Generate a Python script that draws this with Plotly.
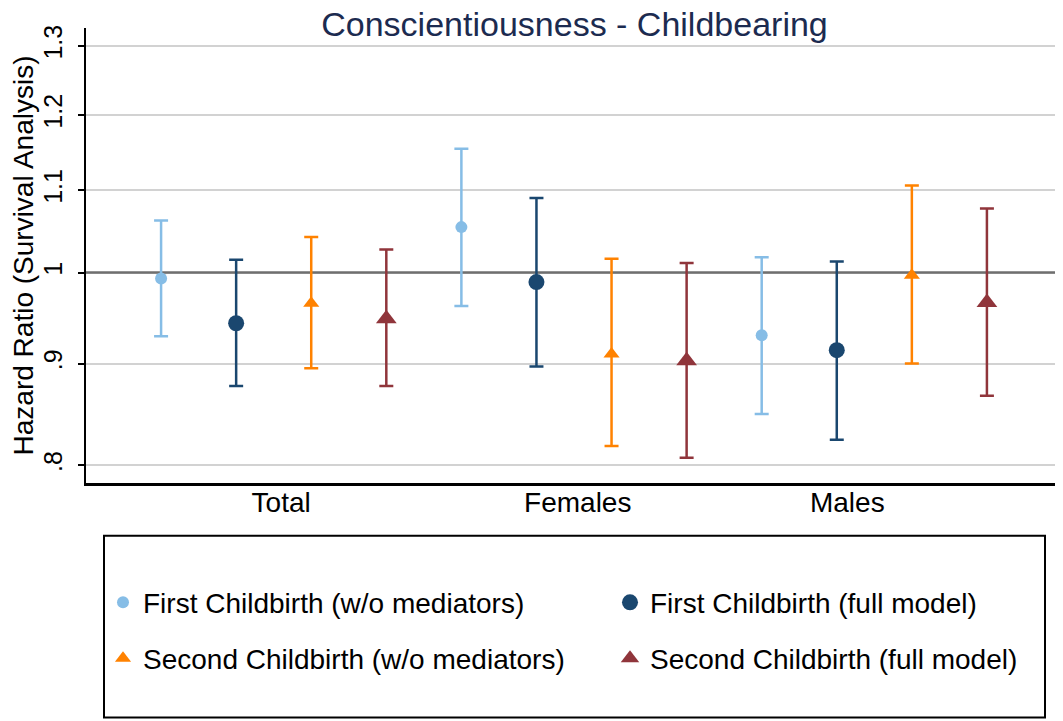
import plotly.graph_objects as go

# ---------------- data ----------------
groups = ["Total", "Females", "Males"]
group_tick_pos = [2.6, 6.55, 10.14]

series_names = [
    "First Childbirth (w/o mediators)",
    "First Childbirth (full model)",
    "Second Childbirth (w/o mediators)",
    "Second Childbirth (full model)",
]

hr_first_wo = [0.993, 1.054, 0.930]
lo_first_wo = [0.929, 0.962, 0.849]
hi_first_wo = [1.062, 1.154, 1.018]

hr_first_full = [0.943, 0.989, 0.914]
lo_first_full = [0.877, 0.897, 0.824]
hi_first_full = [1.015, 1.090, 1.013]

hr_second_wo = [0.965, 0.910, 0.997]
lo_second_wo = [0.895, 0.818, 0.900]
hi_second_wo = [1.042, 1.016, 1.106]

hr_second_full = [0.948, 0.903, 0.966]
lo_second_full = [0.877, 0.807, 0.867]
hi_second_full = [1.027, 1.011, 1.077]

y_tick_vals = [0.8, 0.9, 1.0, 1.1, 1.2, 1.3]
y_tick_text = [".8", ".9", "1", "1.1", "1.2", "1.3"]

# ---------------- styles ----------------
FONT = "Liberation Sans, Arial, sans-serif"
colors = ["#86bde6", "#1a476f", "#ff8200", "#90353b"]
symbols = ["circle", "circle", "triangle-up", "triangle-up"]
sizes = [12, 16, 14, 18]
legend_ids = ["legend", "legend2", "legend3", "legend4"]

all_series = [
    (hr_first_wo, lo_first_wo, hi_first_wo),
    (hr_first_full, lo_first_full, hi_first_full),
    (hr_second_wo, lo_second_wo, hi_second_wo),
    (hr_second_full, lo_second_full, hi_second_full),
]

fig = go.Figure()

# reference line at HR = 1
fig.add_trace(go.Scatter(
    x=[0, 13], y=[1, 1], mode="lines",
    line=dict(color="#6f6f6f", width=2.5),
    showlegend=False, hoverinfo="skip", cliponaxis=False,
))
# right border line of grid
fig.add_trace(go.Scatter(
    x=[13, 13], y=[y_tick_vals[0], y_tick_vals[-1]], mode="lines",
    line=dict(color="#d0d0d0", width=2),
    showlegend=False, hoverinfo="skip", cliponaxis=False,
))

for s, (hr, lo, hi) in enumerate(all_series):
    xs = [4 * g + s + 1 for g in range(len(groups))]
    fig.add_trace(go.Scatter(
        x=xs, y=hr, mode="markers", name=series_names[s],
        marker=dict(color=colors[s], symbol=symbols[s], size=sizes[s]),
        error_y=dict(
            type="data", symmetric=False,
            array=[h - v for h, v in zip(hi, hr)],
            arrayminus=[v - l for v, l in zip(hr, lo)],
            color=colors[s], thickness=2.5, width=7,
        ),
        legend=legend_ids[s],
        cliponaxis=False,
    ))

# the page places the figure 8px from the window's top-left corner
OFF = 8
W, H = 1063 - OFF, 721 - OFF
PLOT_L, PLOT_R, PLOT_T, PLOT_B = 86, 1062, 28, 483.3  # window pixels
ML = PLOT_L - OFF
MR = W - (PLOT_R - OFF)
MT = PLOT_T - OFF
MB = H - (PLOT_B - OFF)
pw = W - ML - MR
ph = H - MT - MB


def px_to_paper_x(px):
    return (px - OFF - ML) / pw


def px_to_paper_y(py):
    return (H - MB - (py - OFF)) / ph


legend_common = dict(
    orientation="h",
    xanchor="left", yanchor="middle",
    font=dict(family=FONT, size=28, color="black"),
    bgcolor="rgba(0,0,0,0)", borderwidth=0,
)
col_x = [103, 610]
row_y = [603, 659]

fig.update_layout(
    width=W, height=H,
    margin=dict(l=ML, r=MR, t=MT, b=MB, autoexpand=False),
    paper_bgcolor="white", plot_bgcolor="white",
    font=dict(family=FONT, color="black"),
    title=dict(
        text="Conscientiousness - Childbearing",
        font=dict(family=FONT, size=34, color="#1c2b50"),
        x=px_to_paper_x(574.5), xref="paper", xanchor="center",
        y=1 - 16 / H, yref="container", yanchor="middle",
    ),
    xaxis=dict(
        range=[0, 13], showgrid=False, zeroline=False,
        tickvals=group_tick_pos, ticktext=groups, ticks="",
        tickfont=dict(family=FONT, size=28, color="black"),
        showline=True, linecolor="black", linewidth=2.5,
        ticklabelstandoff=-7,
        automargin=False,
    ),
    yaxis=dict(
        type="log", range=[-0.10583, 0.12297],
        tickvals=y_tick_vals, ticktext=y_tick_text,
        tickangle=-90,
        tickfont=dict(family=FONT, size=25, color="black"),
        ticks="outside", ticklen=6, tickwidth=2, tickcolor="black",
        ticklabelstandoff=6,
        showgrid=True, gridcolor="#d2d2d2", gridwidth=2,
        zeroline=False,
        showline=True, linecolor="black", linewidth=2,
        automargin=False,
        title=dict(text="Hazard Ratio (Survival Analysis)",
                   font=dict(family=FONT, size=28, color="black"),
                   standoff=0),
    ),
    legend=dict(x=px_to_paper_x(col_x[0]), y=px_to_paper_y(row_y[0]), **legend_common),
    legend2=dict(x=px_to_paper_x(col_x[1]), y=px_to_paper_y(row_y[0]), **legend_common),
    legend3=dict(x=px_to_paper_x(col_x[0]), y=px_to_paper_y(row_y[1]), **legend_common),
    legend4=dict(x=px_to_paper_x(col_x[1]), y=px_to_paper_y(row_y[1]), **legend_common),
    shapes=[dict(
        type="rect", xref="paper", yref="paper",
        x0=px_to_paper_x(104), x1=px_to_paper_x(1045),
        y0=px_to_paper_y(718), y1=px_to_paper_y(536),
        line=dict(color="black", width=2), fillcolor="rgba(0,0,0,0)",
    )],
)

fig.write_html("out.html")
